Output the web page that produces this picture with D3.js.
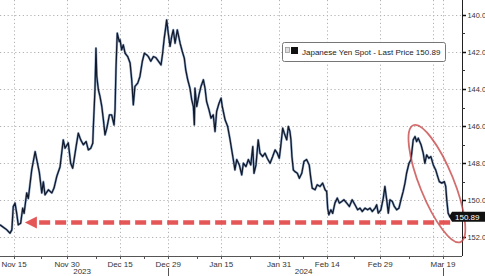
<!DOCTYPE html>
<html>
<head>
<meta charset="utf-8">
<style>
    body { margin: 0; background: #fff; }
    svg { display: block; font-family: "Liberation Sans", Arial, sans-serif; }
    .grid line { stroke: #b2b2b2; stroke-width: 1; stroke-dasharray: 1.2,2.6; }
    .tick_label { font-size: 8px; fill: #333; }
</style>
</head>
<body>
<div id="chart"></div>
<script src="https://cdn.jsdelivr.net/npm/d3@7/dist/d3.min.js"></script>
<script>

//////////////////// data ////////////////////
const times = [
    "2023-11-10 02","2023-11-13 12","2023-11-14 04","2023-11-14 13","2023-11-14 20","2023-11-15 05","2023-11-15 13","2023-11-15 21",
    "2023-11-16 09","2023-11-16 19","2023-11-17 02","2023-11-17 15","2023-11-17 23","2023-11-20 16","2023-11-21 09","2023-11-21 17",
    "2023-11-22 06","2023-11-22 18","2023-11-23 02","2023-11-23 10","2023-11-24 03","2023-11-24 20","2023-11-27 07","2023-11-27 21",
    "2023-11-28 13","2023-11-29 05","2023-11-29 14","2023-11-30 06","2023-11-30 18","2023-12-01 04","2023-12-01 11","2023-12-01 21",
    "2023-12-04 08","2023-12-04 20","2023-12-05 09","2023-12-05 23","2023-12-06 10","2023-12-06 22","2023-12-07 08","2023-12-07 11",
    "2023-12-07 19","2023-12-08 00","2023-12-08 04","2023-12-08 12","2023-12-08 20","2023-12-11 05","2023-12-11 13","2023-12-11 21",
    "2023-12-12 06","2023-12-12 19","2023-12-13 06","2023-12-13 18","2023-12-13 23","2023-12-14 04","2023-12-14 10","2023-12-14 20",
    "2023-12-15 00","2023-12-15 08","2023-12-15 16","2023-12-18 01","2023-12-18 14","2023-12-19 02","2023-12-19 10","2023-12-19 18",
    "2023-12-20 02","2023-12-20 16","2023-12-21 03","2023-12-21 15","2023-12-22 01","2023-12-22 13","2023-12-22 21","2023-12-25 09",
    "2023-12-25 22","2023-12-26 10","2023-12-26 23","2023-12-27 12","2023-12-27 20","2023-12-28 04","2023-12-28 11","2023-12-28 16",
    "2023-12-29 00","2023-12-29 09","2023-12-29 17","2024-01-01 01","2024-01-01 10","2024-01-01 21","2024-01-02 11","2024-01-02 22",
    "2024-01-03 08","2024-01-03 15","2024-01-04 01","2024-01-04 12","2024-01-04 21","2024-01-05 05","2024-01-05 10","2024-01-05 13",
    "2024-01-05 22","2024-01-08 09","2024-01-08 19","2024-01-09 07","2024-01-09 15","2024-01-09 23","2024-01-10 11","2024-01-10 21",
    "2024-01-11 08","2024-01-11 17","2024-01-12 01","2024-01-12 13","2024-01-12 23","2024-01-15 05","2024-01-15 19","2024-01-16 08",
    "2024-01-16 20","2024-01-17 04","2024-01-17 15","2024-01-17 20","2024-01-18 05","2024-01-18 18","2024-01-19 06","2024-01-19 14",
    "2024-01-22 03","2024-01-22 15","2024-01-23 03","2024-01-23 13","2024-01-23 19","2024-01-24 05","2024-01-24 16","2024-01-25 01",
    "2024-01-25 14","2024-01-26 02","2024-01-26 13","2024-01-29 03","2024-01-29 16","2024-01-30 04","2024-01-30 15","2024-01-31 01",
    "2024-01-31 08","2024-01-31 18","2024-02-01 02","2024-02-01 14","2024-02-01 22","2024-02-02 06","2024-02-02 11","2024-02-02 16",
    "2024-02-02 23","2024-02-05 07","2024-02-05 19","2024-02-06 05","2024-02-06 17","2024-02-07 04","2024-02-07 17","2024-02-08 06",
    "2024-02-08 13","2024-02-08 21","2024-02-09 11","2024-02-09 22","2024-02-12 12","2024-02-13 01","2024-02-13 13","2024-02-13 21",
    "2024-02-14 02","2024-02-14 08","2024-02-14 18","2024-02-15 03","2024-02-15 14","2024-02-16 02","2024-02-16 12","2024-02-19 00",
    "2024-02-19 11","2024-02-20 01","2024-02-20 14","2024-02-21 04","2024-02-21 18","2024-02-22 07","2024-02-22 19","2024-02-23 06",
    "2024-02-23 20","2024-02-26 09","2024-02-26 21","2024-02-27 08","2024-02-27 22","2024-02-28 06","2024-02-28 14","2024-02-29 03",
    "2024-02-29 15","2024-02-29 23","2024-03-01 08","2024-03-01 16","2024-03-04 00","2024-03-04 12","2024-03-04 22","2024-03-05 10",
    "2024-03-05 21","2024-03-06 07","2024-03-06 18","2024-03-07 03","2024-03-07 11","2024-03-07 23","2024-03-08 09","2024-03-08 20",
    "2024-03-11 05","2024-03-11 13","2024-03-11 21","2024-03-12 11","2024-03-12 22","2024-03-13 06","2024-03-13 15","2024-03-14 02",
    "2024-03-14 12","2024-03-15 00","2024-03-15 12","2024-03-15 22","2024-03-18 06","2024-03-18 18","2024-03-19 07","2024-03-19 14",
    "2024-03-19 19","2024-03-20 02","2024-03-20 11"
];
const prices = [
    151.32,151.59,151.77,151.59,150.33,150.15,150.69,151.32,
    151.23,150.42,150.70,149.60,149.90,148.36,147.37,147.80,
    148.50,149.60,149.00,149.70,149.43,149.60,149.34,148.70,
    148.20,146.74,147.19,146.90,148.00,148.27,147.80,147.10,
    146.38,146.74,147.00,146.83,147.28,147.19,146.92,146.02,
    144.04,141.80,143.32,144.04,144.40,144.94,145.66,146.47,
    146.11,145.39,145.39,145.93,145.12,142.79,140.99,141.44,
    141.35,141.89,141.62,142.07,142.25,142.60,143.50,144.85,
    143.86,143.68,143.32,142.50,142.07,142.16,142.25,142.50,
    142.25,142.30,142.50,142.70,142.07,141.26,140.72,140.27,
    140.99,141.70,141.17,140.81,141.53,140.81,141.53,141.98,
    142.34,142.96,143.50,143.95,144.58,144.94,145.93,143.95,
    144.94,144.31,143.86,143.50,143.95,144.67,145.12,145.57,
    145.39,146.29,145.21,144.76,144.49,144.94,145.66,146.02,
    146.74,147.28,148.00,148.36,147.80,148.09,148.63,148.00,
    148.18,147.80,148.09,147.10,148.54,148.09,146.74,147.46,
    147.64,147.46,147.73,148.00,147.64,147.28,147.46,147.73,
    147.10,146.11,146.38,146.74,146.02,146.29,146.74,147.64,
    148.36,148.45,148.54,148.81,148.54,147.90,147.80,148.09,
    148.72,149.34,149.43,149.16,149.25,149.07,149.43,149.52,
    150.42,150.78,150.51,150.70,150.15,149.88,150.15,150.06,
    149.97,150.15,150.33,149.97,150.24,150.51,150.42,150.60,
    150.42,150.51,150.42,150.60,150.42,150.24,150.69,150.51,
    149.88,149.25,149.97,150.69,149.97,150.06,150.33,150.51,
    150.42,149.97,149.52,149.07,148.54,148.00,147.80,146.74,
    146.56,146.83,146.65,147.00,147.46,148.00,147.55,147.73,
    147.64,148.09,148.36,148.72,148.99,149.07,148.99,149.25,
    149.97,150.69,150.89
];
const lastPrice = 150.89;
const seriesName = "Japanese Yen Spot - Last Price";

const yTicks = [140, 142, 144, 146, 148, 150, 152];
const yMinorTicks = [141, 143, 145, 147, 149, 151];
const tickDates = ["2023-11-15 00","2023-11-30 00","2023-12-15 00","2023-12-29 00","2024-01-15 00","2024-01-31 00","2024-02-14 00","2024-02-29 00","2024-03-19 00"];
const tickLabels = ["Nov 15","Nov 30","Dec 15","Dec 29","Jan 15","Jan 31","Feb 14","Feb 29","Mar 19"];
const extraGridDates = ["2024-03-15 00"];
const minorTickDates = ["2023-11-22 12","2023-12-08 00","2023-12-22 00","2024-01-08 00","2024-01-23 00","2024-02-07 00","2024-02-21 12","2024-03-08 00"];
const years = ["2023", "2024"];
const yearBreaks = ["2023-11-10 02", "2023-12-29 00", "2024-03-19 00"];

// annotations (in data terms)
const arrowFrom = ["2024-03-20 12", 151.2];
const arrowTo = ["2023-11-17 06", 151.2];
const ringCenter = ["2024-03-15 18", 149.1];

//////////////////// layout ////////////////////
const W = 485, H = 276;
const PLOT_W = 462, PLOT_H = 256;

const parse = d3.timeParse("%Y-%m-%d %H");
const base = new Date(2023, 10, 6);
// weekday index: weekends are removed from the axis
function tradingIndex(str) {
    let d = parse(str);
    let day = d3.timeDay.floor(d);
    let n = d3.timeDay.range(base, day).filter(t => t.getDay() % 6 !== 0).length;
    return n + d.getHours() / 24;
}

const data = times.map((t, i) => ({ t: tradingIndex(t), v: prices[i] }));

const x = d3.scaleLinear()
    .domain([tradingIndex("2023-11-10 02"), tradingIndex("2024-03-22 23")])
    .range([0, PLOT_W]);
const y = d3.scaleLinear()
    .domain([139.2, 153.0])
    .range([0, PLOT_H]);

const svg = d3.select('#chart').append('svg')
    .attr('width', W)
    .attr('height', H);

//////////////////// grid ////////////////////
let grid = svg.append('g').classed('grid', true);
grid.selectAll('.h').data(yTicks).enter().append('line')
    .attr('x1', 0).attr('x2', PLOT_W)
    .attr('y1', d => Math.round(y(d)) + 0.5).attr('y2', d => Math.round(y(d)) + 0.5);
grid.selectAll('.v').data(tickDates.concat(extraGridDates)).enter().append('line')
    .attr('x1', d => Math.round(x(tradingIndex(d))) + 0.5).attr('x2', d => Math.round(x(tradingIndex(d))) + 0.5)
    .attr('y1', 0).attr('y2', PLOT_H);

//////////////////// series ////////////////////
let line = d3.line().x(d => x(d.t)).y(d => y(d.v));
svg.append('path')
    .datum(data)
    .attr('d', line)
    .attr('fill', 'none')
    .attr('stroke', '#4a6fa5')
    .attr('stroke-opacity', 0.55)
    .attr('stroke-width', 2.4)
    .attr('stroke-linejoin', 'round');
svg.append('path')
    .datum(data)
    .attr('d', line)
    .attr('fill', 'none')
    .attr('stroke', '#111a2c')
    .attr('stroke-width', 1.3)
    .attr('stroke-linejoin', 'round');

//////////////////// axes ////////////////////
// bottom
svg.append('line')
    .attr('x1', 0).attr('x2', PLOT_W)
    .attr('y1', PLOT_H + 0.5).attr('y2', PLOT_H + 0.5)
    .attr('stroke', '#555');
svg.selectAll('.xtick').data(tickDates.concat(minorTickDates)).enter().append('line')
    .attr('x1', d => Math.round(x(tradingIndex(d))) + 0.5).attr('x2', d => Math.round(x(tradingIndex(d))) + 0.5)
    .attr('y1', PLOT_H).attr('y2', PLOT_H + 3)
    .attr('stroke', '#555');
svg.selectAll('.xlabel').data(tickDates).enter().append('text')
    .classed('tick_label', true)
    .attr('x', d => x(tradingIndex(d)))
    .attr('y', PLOT_H + 11)
    .attr('text-anchor', 'middle')
    .text((d, i) => tickLabels[i]);
// years
svg.selectAll('.ybreak').data(yearBreaks.slice(1)).enter().append('line')
    .attr('x1', d => Math.round(x(tradingIndex(d))) + 0.5).attr('x2', d => Math.round(x(tradingIndex(d))) + 0.5)
    .attr('y1', PLOT_H + 12).attr('y2', H)
    .attr('stroke', '#555');
svg.selectAll('.year').data(years).enter().append('text')
    .classed('tick_label', true)
    .attr('x', (d, i) => (x(tradingIndex(yearBreaks[i])) + x(tradingIndex(yearBreaks[i + 1]))) / 2 - 2)
    .attr('y', H - 2)
    .attr('text-anchor', 'middle')
    .text(d => d);

// right
svg.append('line')
    .attr('x1', PLOT_W + 0.5).attr('x2', PLOT_W + 0.5)
    .attr('y1', 0).attr('y2', PLOT_H)
    .attr('stroke', '#222');
svg.selectAll('.ytick').data(yTicks).enter().append('line')
    .attr('x1', PLOT_W).attr('x2', PLOT_W + 4)
    .attr('y1', d => Math.round(y(d)) + 0.5).attr('y2', d => Math.round(y(d)) + 0.5)
    .attr('stroke', '#111').attr('stroke-width', 1.5);
svg.selectAll('.yminor').data(yMinorTicks).enter().append('line')
    .attr('x1', PLOT_W).attr('x2', PLOT_W + 3)
    .attr('y1', d => Math.round(y(d)) + 0.5).attr('y2', d => Math.round(y(d)) + 0.5)
    .attr('stroke', '#333');
svg.selectAll('.ylabel').data(yTicks).enter().append('text')
    .attr('x', PLOT_W + 5.5)
    .attr('y', d => y(d) + 3)
    .attr('font-size', 7.4)
    .attr('fill', '#333')
    .text(d => d.toFixed(1));

//////////////////// annotations ////////////////////
let ax1 = x(tradingIndex(arrowFrom[0])), ay = y(arrowFrom[1]);
let ax2 = x(tradingIndex(arrowTo[0]));
svg.append('line')
    .attr('x1', ax1).attr('x2', ax2 + 13)
    .attr('y1', ay).attr('y2', ay)
    .attr('stroke', '#e03a3a')
    .attr('stroke-opacity', 0.85)
    .attr('stroke-width', 4.5)
    .attr('stroke-dasharray', '11,5');
svg.append('path')
    .attr('d', `M ${ax2} ${ay} L ${ax2 + 12} ${ay - 6} L ${ax2 + 12} ${ay + 6} Z`)
    .attr('fill', '#e03a3a')
    .attr('fill-opacity', 0.85);

let cx = x(tradingIndex(ringCenter[0])), cy = y(ringCenter[1]);
svg.append('ellipse')
    .attr('cx', 0).attr('cy', 0)
    .attr('rx', 63).attr('ry', 17)
    .attr('transform', `translate(${cx}, ${cy}) rotate(68)`)
    .attr('fill', 'none')
    .attr('stroke', '#c84848')
    .attr('stroke-opacity', 0.8)
    .attr('stroke-width', 1.8);

// last price tag
let ly = y(lastPrice);
svg.append('path')
    .attr('d', `M ${PLOT_W - 13} ${ly} L ${PLOT_W - 10} ${ly - 5} L ${W + 5} ${ly - 5} L ${W + 5} ${ly + 5} L ${PLOT_W - 10} ${ly + 5} Z`)
    .attr('fill', '#111');
svg.append('text')
    .attr('x', PLOT_W - 7)
    .attr('y', ly + 3)
    .attr('font-size', 8)
    .attr('fill', '#fff')
    .text(lastPrice.toFixed(2));

//////////////////// legend ////////////////////
let legend = svg.append('g').attr('transform', 'translate(282, 42)');
legend.append('rect')
    .attr('x', 0.5).attr('y', 0.5)
    .attr('width', 163).attr('height', 19)
    .attr('rx', 2)
    .attr('fill', '#fff')
    .attr('stroke', '#777');
legend.append('rect')
    .attr('x', 3.5).attr('y', 5.5)
    .attr('width', 4).attr('height', 5)
    .attr('fill', '#ddd')
    .attr('stroke', '#999')
    .attr('stroke-width', 0.8);
legend.append('rect')
    .attr('x', 9).attr('y', 5)
    .attr('width', 7).attr('height', 7)
    .attr('fill', '#111');
legend.append('text')
    .attr('x', 20)
    .attr('y', 12.5)
    .attr('font-size', 8)
    .attr('fill', '#222')
    .text(`${seriesName} ${lastPrice.toFixed(2)}`);

</script>
</body>
</html>
